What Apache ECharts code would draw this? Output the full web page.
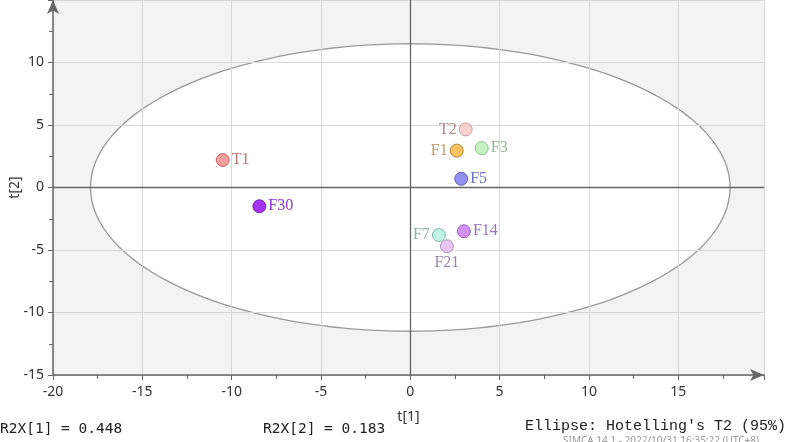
<!DOCTYPE html>
<html>
<head>
<meta charset="utf-8">
<script src="https://cdn.jsdelivr.net/npm/echarts@6/dist/echarts.min.js"></script>
<style>html,body{margin:0;padding:0;background:#fff;}#c{width:786px;height:442px;}</style>
</head>
<body>
<div id="c"></div>
<script>
// ---- data ----
var names = ['T1', 'T2', 'F1', 'F3', 'F5', 'F7', 'F14', 'F21', 'F30'];
var t1Values = [-10.5, 3.1, 2.6, 4.0, 2.85, 1.6, 3.0, 2.05, -8.45];
var t2Values = [2.2, 4.65, 2.95, 3.15, 0.7, -3.8, -3.5, -4.7, -1.5];
var xTicks = [-20, -15, -10, -5, 0, 5, 10, 15];
var yTicks = [-15, -10, -5, 0, 5, 10];
var ellipseSemiAxes = [17.9, 11.5]; // Hotelling's T2 (95%)
var r2x1 = 0.448;
var r2x2 = 0.183;

// ---- styles ----
var fills   = ['#F28484', '#F8C6C6', '#FBB43A', '#B6F0B6', '#7676EE', '#AEF0DE', '#C776EE', '#E6B6F0', '#8E00F0'];
var borders = ['#C05050', '#C09090', '#A07020', '#80B080', '#4848B0', '#70A898', '#8848B0', '#A080B0', '#6000B0'];
var labelColors = ['#A85858', '#9A7272', '#B08040', '#80A080', '#4A4AB8', '#70A090', '#8050A8', '#806890', '#7000C0'];
var labelSides = ['right', 'left', 'left', 'right', 'right', 'left', 'right', 'bottom', 'right'];

var points = names.map(function (n, i) {
  return {
    name: n,
    value: [t1Values[i], t2Values[i]],
    itemStyle: { color: fills[i], borderColor: borders[i], borderWidth: 1 },
    label: { position: labelSides[i], color: labelColors[i] }
  };
});

var chart = echarts.init(document.getElementById('c'));
var tickFont = { fontFamily: 'Noto Sans', fontSize: 14, color: '#333' };
chart.setOption({
  animation: false,
  grid: { left: 53, right: 22, top: 0, bottom: 67, show: true, backgroundColor: '#F3F3F3', borderWidth: 0,
          containLabel: false, outerBoundsMode: 'none' },
  xAxis: {
    type: 'value', min: -20, max: 19.8, interval: 5, z: 3,
    name: 't[1]', nameLocation: 'middle', nameGap: 35, nameMoveOverlap: false,
    nameTextStyle: { fontFamily: 'Noto Sans', fontSize: 14, color: '#333' },
    axisLine: { onZero: false, symbol: ['none', 'arrow'], symbolSize: [9, 14], lineStyle: { color: '#666', width: 1.5 } },
    axisTick: { show: true, length: 5, lineStyle: { color: '#666' } },
    minorTick: { show: true, splitNumber: 2, length: 4, lineStyle: { color: '#666' } },
    axisLabel: Object.assign({ margin: 10, showMaxLabel: false }, tickFont),
    splitLine: { show: true, lineStyle: { color: '#D8D8D8', width: 1 } }
  },
  yAxis: {
    type: 'value', min: -15, max: 15, interval: 5, z: 3,
    name: 't[2]', nameLocation: 'middle', nameGap: 31, nameRotate: 90, nameMoveOverlap: false,
    nameTextStyle: { fontFamily: 'Noto Sans', fontSize: 14, color: '#333' },
    axisLine: { onZero: false, symbol: ['none', 'arrow'], symbolSize: [9, 14], lineStyle: { color: '#666', width: 1.5 } },
    axisTick: { show: true, length: 5, lineStyle: { color: '#666' } },
    minorTick: { show: true, splitNumber: 2, length: 4, lineStyle: { color: '#666' } },
    axisLabel: Object.assign({ margin: 9, showMaxLabel: false }, tickFont),
    splitLine: { show: true, lineStyle: { color: '#D8D8D8', width: 1 } }
  },
  series: [
    {
      type: 'custom', z: 1, silent: true,
      data: [[0, 0, ellipseSemiAxes[0], ellipseSemiAxes[1]]],
      renderItem: function (params, api) {
        var cx = api.value(0), cy = api.value(1), a = api.value(2), b = api.value(3);
        var pts = [];
        for (var k = 0; k < 180; k++) {
          var th = k / 180 * Math.PI * 2;
          pts.push(api.coord([cx + a * Math.cos(th), cy + b * Math.sin(th)]));
        }
        return { type: 'polygon', shape: { points: pts }, style: { fill: '#FFFFFF', stroke: '#999', lineWidth: 1.3 } };
      }
    },
    {
      type: 'line', z: 4, data: [], silent: true,
      markLine: {
        silent: true, symbol: ['none', 'none'], animation: false,
        label: { show: false },
        lineStyle: { color: '#666', width: 1.3, type: 'solid' },
        data: [{ xAxis: 0 }, { yAxis: 0 }]
      }
    },
    {
      type: 'scatter', z: 5, symbolSize: 13, data: points,
      label: { show: true, formatter: '{b}', fontFamily: 'Liberation Serif', fontSize: 16, distance: 2 }
    }
  ],
  graphic: [
    { type: 'text', left: 0, top: 422, style: { text: 'R2X[1] = ' + r2x1.toFixed(3), font: '14.5px "DejaVu Sans Mono"', fill: '#222' } },
    { type: 'text', left: 263, top: 422, style: { text: 'R2X[2] = ' + r2x2.toFixed(3), font: '14.5px "DejaVu Sans Mono"', fill: '#222' } },
    { type: 'text', left: 525, top: 419, style: { text: "Ellipse: Hotelling's T2 (95%)", font: '15px "Liberation Mono"', fill: '#222' } },
    { type: 'text', left: 563, top: 436, style: { text: 'SIMCA 14.1 - 2022/10/31 16:35:22 (UTC+8)', font: '10px "Noto Sans"', fill: '#999' } }
  ]
});
</script>
</body>
</html>
